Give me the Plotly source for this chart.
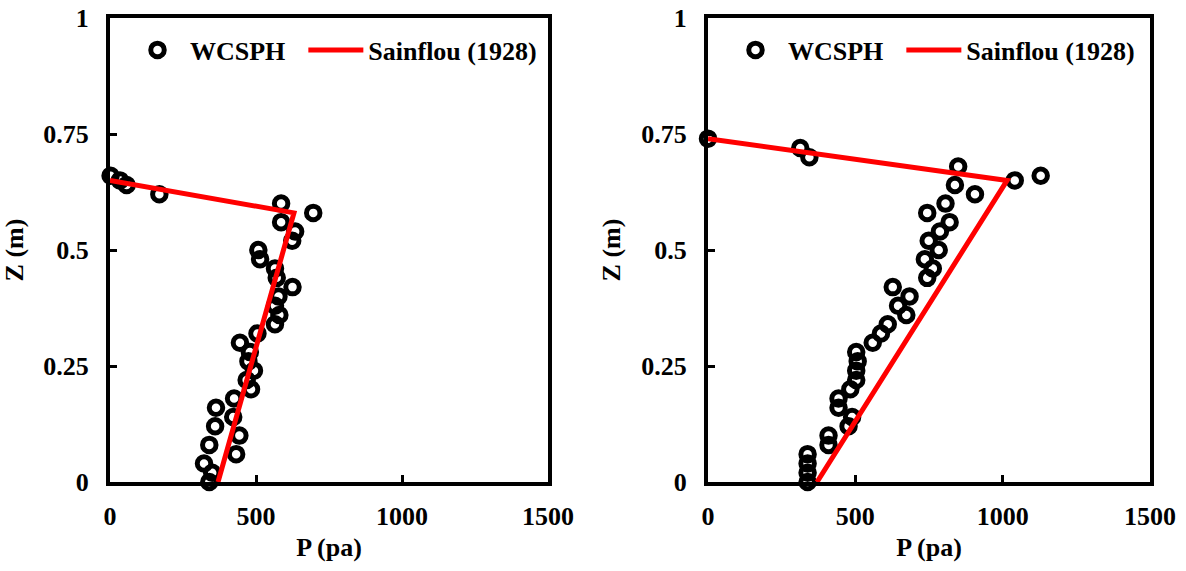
import plotly.graph_objects as go

# ---- data (left panel) ----
z_left = [0.00, 0.02, 0.04, 0.06, 0.08, 0.10, 0.12, 0.14, 0.16, 0.18, 0.20, 0.22,
          0.24, 0.26, 0.28, 0.30, 0.32, 0.34, 0.36, 0.38, 0.40, 0.42, 0.44, 0.46,
          0.48, 0.50, 0.52, 0.54, 0.56, 0.58, 0.60, 0.62, 0.64, 0.65, 0.66]
p_left = [340, 350, 322, 432, 340, 443, 360, 422, 363, 425, 483, 468,
          493, 474, 479, 445, 505, 565, 580, 565, 577, 625, 571, 565,
          514, 508, 624, 634, 586, 696, 586, 169, 57, 34, 2]
sain_left_p = [370, 630, 0]
sain_left_z = [0.0, 0.58, 0.65]

# ---- data (right panel) ----
z_right = [0.00, 0.02, 0.04, 0.06, 0.08, 0.10, 0.12, 0.14, 0.16, 0.18, 0.20, 0.22,
           0.24, 0.26, 0.28, 0.30, 0.32, 0.34, 0.36, 0.38, 0.40, 0.42, 0.44, 0.46,
           0.48, 0.50, 0.52, 0.54, 0.56, 0.58, 0.60, 0.62, 0.64, 0.65, 0.66,
           0.68, 0.70, 0.72, 0.74]
p_right = [338, 338, 338, 338, 409, 409, 477, 489, 443, 443, 483, 503,
           503, 508, 503, 559, 587, 610, 673, 645, 684, 627, 744, 763,
           736, 783, 749, 787, 820, 744, 806, 906, 838, 1041, 1129,
           849, 344, 313, 0]
sain_right_p = [370, 1015, 0]
sain_right_z = [0.0, 0.65, 0.74]

x_ticks = [0, 500, 1000, 1500]
y_ticks = [0, 0.25, 0.5, 0.75, 1]
y_tick_text = ["0", "0.25", "0.5", "0.75", "1"]
name_sph = "WCSPH\u00a0\u00a0"
name_sainflou = "Sainflou (1928)"

W, H = 1186, 571
FONT = "Liberation Serif"

fig = go.Figure()

marker_style = dict(symbol="circle-open", size=13.5, color="black",
                    line=dict(width=5, color="black"))
line_style = dict(color="#FF0000", width=5)

fig.add_trace(go.Scatter(x=p_left, y=z_left, mode="markers", name=name_sph,
                         marker=marker_style, cliponaxis=False,
                         xaxis="x", yaxis="y", legend="legend"))
fig.add_trace(go.Scatter(x=sain_left_p, y=sain_left_z, mode="lines",
                         name=name_sainflou, line=line_style,
                         xaxis="x", yaxis="y", legend="legend"))
fig.add_trace(go.Scatter(x=p_right, y=z_right, mode="markers", name=name_sph,
                         marker=marker_style, cliponaxis=False,
                         xaxis="x2", yaxis="y2", legend="legend2"))
fig.add_trace(go.Scatter(x=sain_right_p, y=sain_right_z, mode="lines",
                         name=name_sainflou, line=line_style,
                         xaxis="x2", yaxis="y2", legend="legend2"))

tickfont = dict(family=FONT, size=26, color="black", weight="bold")
titlefont = dict(family=FONT, size=26, color="black", weight="bold")

def xaxis(domain, anchor):
    return dict(domain=domain, anchor=anchor, range=[0, 1500],
                tickvals=x_ticks, ticks="inside", ticklen=7, tickwidth=3,
                tickcolor="black", showline=True, mirror=True, linewidth=4,
                linecolor="black", showgrid=False, zeroline=False,
                tickfont=tickfont, ticklabelstandoff=8,
                title=dict(text="P (pa)", font=titlefont, standoff=9),
                automargin=False, layer="below traces", fixedrange=True)

def yaxis(domain, anchor):
    return dict(domain=domain, anchor=anchor, range=[0, 1],
                tickvals=y_ticks, ticktext=y_tick_text, ticks="inside",
                ticklen=7, tickwidth=3, tickcolor="black", showline=True,
                mirror=True, linewidth=4, linecolor="black", showgrid=False,
                zeroline=False, tickfont=tickfont, ticklabelstandoff=12,
                title=dict(text="Z (m)", font=titlefont, standoff=14),
                automargin=False, layer="below traces", fixedrange=True)

legfont = dict(family=FONT, size=26, color="black", weight="bold")
ydom = [89 / H, 553 / H]
fig.update_layout(
    width=W, height=H,
    margin=dict(l=0, r=0, t=0, b=0),
    paper_bgcolor="white", plot_bgcolor="white",
    xaxis=xaxis([110 / W, 548 / W], "y"),
    yaxis=yaxis(ydom, "x"),
    xaxis2=xaxis([708 / W, 1150 / W], "y2"),
    yaxis2=yaxis(ydom, "x2"),
    legend=dict(x=125 / W, y=1 - 50 / H, xanchor="left", yanchor="middle",
                orientation="h", bgcolor="rgba(0,0,0,0)", itemwidth=55,
                font=legfont),
    legend2=dict(x=723 / W, y=1 - 50 / H, xanchor="left", yanchor="middle",
                 orientation="h", bgcolor="rgba(0,0,0,0)", itemwidth=55,
                 font=legfont),
    showlegend=True,
)

fig.write_html("out.html")
